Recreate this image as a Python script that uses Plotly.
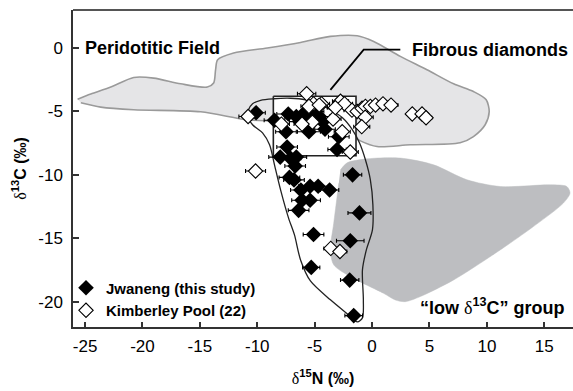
import plotly.graph_objects as go

# ---------------- data ----------------
# Jwaneng (this study): delta15N, delta13C, 1-sigma on delta15N
jw_n = [-10.1, -8.5, -7.3, -6.6, -6.0, -5.2, -4.6, -4.3, -6.3, -5.5,
        -7.5, -5.5, -4.1, -2.9, -3.05, -7.4, -8.0, -7.1, -6.6, -6.7,
        -7.2, -6.8, -5.4, -4.7, -3.7, -6.2, -6.1, -5.4, -6.4, -1.7,
        -1.1, -5.1, -1.9, -5.3, -1.95, -1.6]
jw_c = [-5.1, -5.7, -5.2, -5.4, -5.2, -5.0, -5.4, -5.8, -5.8, -5.6,
        -6.6, -6.6, -6.4, -7.0, -8.0, -7.8, -8.6, -8.7, -8.6, -9.3,
        -10.2, -10.4, -10.9, -10.9, -11.2, -11.2, -12.0, -12.0, -12.8, -10.0,
        -13.0, -14.7, -15.2, -17.3, -18.3, -21.1]
jw_err = [0.8, 0.9, 1.0, 1.0, 0.9, 1.0, 0.9, 1.0, 0.9, 0.8,
          0.9, 1.0, 0.9, 0.9, 0.8, 0.9, 1.0, 0.9, 0.9, 0.9,
          0.9, 0.9, 1.0, 0.9, 0.8, 0.9, 0.9, 0.9, 0.9, 0.8,
          1.0, 0.9, 1.2, 0.75, 0.8, 0.77]

# Kimberley Pool (22)
kp_n = [-10.8, -10.15, -5.7, -4.4, -5.1, -5.5, -2.75, -2.4, -1.75, -1.3,
        -0.87, -0.58, -0.15, 0.3, 0.95, 1.65, -0.6, -0.9, -2.6, -3.4,
        -5.2, -6.1, -7.9, -1.9, 3.5, 4.35, 4.7, -3.6, -2.8, -4.6, -3.2]
kp_c = [-5.4, -9.7, -3.6, -4.4, -4.4, -4.6, -4.2, -4.4, -4.9, -5.0,
        -4.75, -4.6, -4.6, -4.5, -4.4, -4.5, -5.45, -6.2, -6.6, -5.6,
        -5.85, -6.0, -6.0, -8.2, -5.2, -5.2, -5.5, -15.8, -16.05, -4.5, -4.7]
kp_err = [0.8, 0.87, 0.8, 0.7, 0.7, 0.7, 0.7, 0.7, 0.7, 0.7,
          0.7, 0.7, 0.7, 0.7, 0.7, 0.6, 0.7, 0.7, 0.7, 0.7,
          0.7, 0.7, 0.7, 0.7, 0.5, 0.5, 0.5, 0.6, 0.6, 0.7, 0.7]

# Peridotitic field outline
per_n = [-25.65, -24.5, -22.76, -20.76, -19.02, -16.67, -14.35, -13.8, -13.63, -13.45,
         -12.06, -9.13, -6.23, -3.63, -1.3, 0.14, 2.46, 4.78, 7.1, 8.83,
         9.94, 10.2, 9.85, 8.83, 7.67, 3.33, 0.43, -1.02, -2.17, -5.1,
         -7.97, -10.87, -14.93, -20.76, -23.63, -25.37]
per_c = [-4.03, -3.63, -3.08, -2.32, -2.37, -2.82, -3.08, -2.76, -1.71, -0.92,
         -0.39, 0.0, 0.44, 0.92, 0.97, 0.52, -0.66, -1.71, -2.82, -3.43,
         -4.08, -5.03, -6.05, -6.98, -7.47, -7.63, -7.77, -7.32, -6.71, -6.19,
         -5.79, -5.66, -5.03, -4.87, -4.66, -4.32]

# "low d13C" group field outline
low_n = [-2.76, -2.17, -0.43, 2.46, 5.36, 8.26, 11.16, 15.5, 16.96, 17.24,
         16.66, 14.05, 11.16, 7.1, 4.2, 2.9, 2.03, 1.0, -1.89, -3.34,
         -3.63, -3.34, -2.9]
low_c = [-9.61, -9.05, -8.74, -8.68, -9.21, -10.39, -10.92, -10.79, -10.92, -11.44,
         -12.23, -14.08, -15.92, -18.29, -19.6, -20.0, -19.87, -19.34, -18.03, -17.1,
         -15.92, -13.81, -10.66]

# Jwaneng field outline
jwf_n = [-10.76, -10.41, -9.71, -8.58, -7.1, -5.8, -4.67, -3.63, -2.58, -1.71,
         -1.1, -0.58, -0.15, 0.07, 0.03, -0.5, -0.84, -0.76, -0.84, -1.28,
         -2.15, -3.63, -5.37, -6.23, -6.76, -7.28, -7.97, -8.5, -8.93, -9.54,
         -10.41, -10.84, -10.76]
jwf_c = [-4.87, -4.4, -4.12, -4.0, -3.96, -4.08, -4.4, -4.87, -5.5, -6.45,
         -7.47, -8.81, -10.39, -12.37, -14.34, -15.92, -17.5, -19.86, -21.28, -21.6,
         -20.97, -19.86, -18.37, -16.71, -14.74, -13.39, -11.18, -9.21, -7.63, -6.69,
         -6.05, -5.34, -4.87]

# Fibrous diamonds box and pointer
box_n = [-8.6, -1.4]
box_c = [-3.8, -8.5]
ptr_n = [-3.63, -0.73, 2.46]
ptr_c = [-3.3, -0.13, -0.13]

x_ticks = [-25, -20, -15, -10, -5, 0, 5, 10, 15]
x_labels = ["-25", "-20", "-15", "-10", "-5", "0", "5", "10", "15"]
y_ticks = [-20, -15, -10, -5, 0]
y_labels = ["-20", "-15", "-10", "-5", "0"]

SANS = "Liberation Sans, Arial, sans-serif"
DELTA = "<span style='font-family:Liberation Serif'>\u03b4</span>"

fig = go.Figure()

fig.add_trace(go.Scatter(x=per_n, y=per_c, mode="lines", fill="toself",
                         fillcolor="#e5e5e7", line=dict(color="#9a9a9a", width=1.6, shape="spline", smoothing=0.8),
                         hoverinfo="skip", showlegend=False))
fig.add_trace(go.Scatter(x=low_n, y=low_c, mode="lines", fill="toself",
                         fillcolor="#bdbec1", line=dict(color="#bdbec1", width=0.5, shape="spline", smoothing=0.8),
                         hoverinfo="skip", showlegend=False))
fig.add_trace(go.Scatter(x=[box_n[0], box_n[1], box_n[1], box_n[0], box_n[0]],
                         y=[box_c[0], box_c[0], box_c[1], box_c[1], box_c[0]],
                         mode="lines", fill="toself", fillcolor="white",
                         line=dict(color="#222", width=1.6), hoverinfo="skip", showlegend=False))
fig.add_trace(go.Scatter(x=jwf_n, y=jwf_c, mode="lines",
                         line=dict(color="#222", width=1.3, shape="spline", smoothing=0.8),
                         hoverinfo="skip", showlegend=False))
fig.add_trace(go.Scatter(x=ptr_n, y=ptr_c, mode="lines",
                         line=dict(color="black", width=1.8), hoverinfo="skip", showlegend=False))

fig.add_trace(go.Scatter(x=jw_n, y=jw_c, mode="markers", name="<b>Jwaneng (this study)</b>",
                         marker=dict(symbol="diamond", size=12, color="black", line=dict(color="black", width=0)),
                         error_x=dict(type="data", array=jw_err, color="black", thickness=1.1, width=2)))
fig.add_trace(go.Scatter(x=kp_n, y=kp_c, mode="markers", name="<b>Kimberley Pool (22)</b>",
                         marker=dict(symbol="diamond", size=11, color="white", line=dict(color="black", width=1.1)),
                         error_x=dict(type="data", array=kp_err, color="black", thickness=1.1, width=2)))

fig.add_annotation(x=-25.2, y=0, xref="x", yref="y", text="<b>Peridotitic Field</b>",
                   showarrow=False, xanchor="left", yanchor="middle",
                   font=dict(family=SANS, size=18, color="black"))
fig.add_annotation(x=3.3, y=-0.13, xref="x", yref="y", text="<b>Fibrous diamonds</b>",
                   showarrow=False, xanchor="left", yanchor="middle",
                   font=dict(family=SANS, size=18, color="black"))
fig.add_annotation(x=4.0, y=-20.4, xref="x", yref="y",
                   text="<b>\u201clow </b>" + DELTA + "<b><sup>13</sup>C\u201d group</b>",
                   showarrow=False, xanchor="left", yanchor="middle",
                   font=dict(family=SANS, size=18, color="black"))

fig.add_shape(type="line", xref="paper", yref="paper", x0=0, x1=1, y0=1, y1=1,
              line=dict(color="#555", width=2))

fig.update_xaxes(range=[-26.05, 17.5], tickvals=x_ticks, ticktext=x_labels, automargin=False,
                 ticks="inside", ticklen=5, tickwidth=1.5, tickcolor="#333", ticklabelstandoff=3,
                 showline=True, linecolor="#333", linewidth=2, showgrid=False, zeroline=False,
                 tickfont=dict(family=SANS, size=17, color="black"),
                 title=dict(text=DELTA + "<b><sup>15</sup>N (\u2030)</b>",
                            font=dict(family=SANS, size=16, color="black"), standoff=17))
fig.update_yaxes(range=[-22, 3], tickvals=y_ticks, ticktext=y_labels, automargin=False,
                 ticks="inside", ticklen=6, tickwidth=1.5, tickcolor="#333", ticklabelstandoff=5,
                 showline=True, linecolor="#333", linewidth=1.5, showgrid=False, zeroline=False,
                 tickfont=dict(family=SANS, size=17, color="black"),
                 title=dict(text=DELTA + "<b><sup>13</sup>C (\u2030)</b>",
                            font=dict(family=SANS, size=16, color="black"), standoff=8))

fig.update_layout(width=573, height=391, margin=dict(l=73, r=0, t=10, b=64),
                  plot_bgcolor="white", paper_bgcolor="white",
                  legend=dict(x=-0.014, y=0.175, xanchor="left", yanchor="top",
                              bgcolor="rgba(0,0,0,0)", font=dict(family=SANS, size=15, color="black"),
                              itemsizing="trace", tracegroupgap=0, itemwidth=30))

# remove the default page margin / scrollbars so the figure fills the window exactly
fig.write_html("out.html",
               config={"displayModeBar": False},
               post_script="document.body.style.margin='0px';"
                           "document.body.style.overflow='hidden';"
                           "document.documentElement.style.overflow='hidden';")
